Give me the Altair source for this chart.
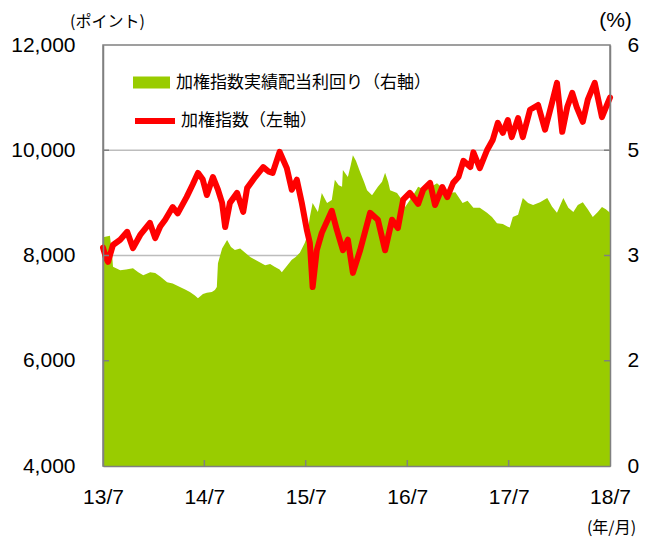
import altair as alt
import pandas as pd

# ---- data ----
idx_dates = [
    "2013-07-01", "2013-07-12", "2013-07-19", "2013-08-06", "2013-09-01", "2013-09-26",
    "2013-10-17", "2013-11-12", "2013-12-17", "2014-01-05", "2014-01-23", "2014-02-10",
    "2014-03-09", "2014-03-27", "2014-04-28", "2014-05-20", "2014-06-08", "2014-06-25",
    "2014-07-10", "2014-08-01", "2014-08-19", "2014-09-03", "2014-09-14", "2014-10-01",
    "2014-10-27", "2014-11-18", "2014-12-02", "2014-12-31", "2015-01-29", "2015-02-16",
    "2015-03-04", "2015-03-29", "2015-04-24", "2015-05-12", "2015-05-30", "2015-06-17",
    "2015-07-05", "2015-07-16", "2015-07-26", "2015-08-10", "2015-08-28", "2015-10-03",
    "2015-10-21", "2015-11-12", "2015-11-30", "2015-12-18", "2016-01-13", "2016-02-18",
    "2016-03-17", "2016-04-12", "2016-05-07", "2016-05-28", "2016-06-16", "2016-07-10",
    "2016-08-09", "2016-08-27", "2016-09-21", "2016-10-09", "2016-11-04", "2016-11-22",
    "2016-12-13", "2017-01-01", "2017-01-19", "2017-02-13", "2017-02-24", "2017-03-19",
    "2017-04-14", "2017-05-05", "2017-05-23", "2017-06-10", "2017-06-28", "2017-07-12",
    "2017-08-04", "2017-08-21", "2017-09-16", "2017-10-15", "2017-11-09", "2017-12-04",
    "2017-12-22", "2018-01-10", "2018-01-28", "2018-02-15", "2018-03-03", "2018-03-25",
    "2018-04-12", "2018-05-07", "2018-06-02", "2018-06-23", "2018-07-01",
]
idx_values = [
    8150, 7950, 7880, 8200, 8300, 8450,
    8140, 8390, 8620, 8330, 8550, 8680,
    8920, 8800, 9110, 9350, 9570, 9450,
    9150, 9490, 9250, 9000, 8540, 9000,
    9190, 8830, 9280, 9490, 9680, 9600,
    9570, 9970, 9660, 9250, 9440, 9000,
    8490, 8240, 7400, 8100, 8430, 8850,
    8490, 8100, 8300, 7670, 8100, 8810,
    8680, 8100, 8680, 8520, 9060, 9190,
    8980, 9250, 9380, 8960, 9300, 9110,
    9380, 9490, 9800, 9680, 9960, 9660,
    10000, 10200, 10520, 10330, 10575, 10250,
    10610, 10250, 10770, 10860, 10390, 10900,
    11280, 10350, 10820, 11090, 10820, 10540,
    10960, 11280, 10630, 10900, 11000,
]

yld_dates = [
    "2013-07-01", "2013-07-26", "2013-08-03", "2013-08-06", "2013-09-01", "2013-09-22",
    "2013-10-17", "2013-11-05", "2013-11-23", "2013-12-18", "2014-01-05", "2014-01-23",
    "2014-02-17", "2014-03-09", "2014-04-04", "2014-04-21", "2014-05-10", "2014-05-28",
    "2014-06-08", "2014-06-26", "2014-07-10", "2014-07-28", "2014-08-08", "2014-08-15",
    "2014-08-19", "2014-09-03", "2014-09-21", "2014-10-05", "2014-10-19", "2014-11-07",
    "2014-11-25", "2014-12-13", "2014-12-31", "2015-01-18", "2015-02-05", "2015-02-23",
    "2015-03-11", "2015-03-29", "2015-04-06", "2015-04-24", "2015-05-12", "2015-05-26",
    "2015-06-10", "2015-06-28", "2015-07-05", "2015-07-16", "2015-07-26", "2015-08-14",
    "2015-08-28", "2015-09-16", "2015-10-03", "2015-10-14", "2015-10-28", "2015-11-09",
    "2015-11-12", "2015-11-30", "2015-12-11", "2015-12-18", "2015-12-29", "2016-01-13",
    "2016-01-27", "2016-02-07", "2016-02-25", "2016-03-17", "2016-04-01", "2016-04-12",
    "2016-04-23", "2016-04-30", "2016-05-25", "2016-06-12", "2016-06-23", "2016-07-03",
    "2016-07-21", "2016-08-09", "2016-09-04", "2016-09-25", "2016-10-16", "2016-11-08",
    "2016-11-26", "2016-12-21", "2017-01-16", "2017-02-03", "2017-02-24", "2017-03-19",
    "2017-04-14", "2017-05-02", "2017-05-20", "2017-06-10", "2017-06-28", "2017-07-05",
    "2017-07-16", "2017-08-04", "2017-08-21", "2017-09-09", "2017-09-27", "2017-10-22",
    "2017-11-17", "2017-12-04", "2017-12-22", "2018-01-14", "2018-02-01", "2018-02-19",
    "2018-03-07", "2018-03-25", "2018-04-12", "2018-04-30", "2018-05-18", "2018-06-02",
    "2018-06-16", "2018-07-01",
]
yld_values = [
    3.26, 3.28, 3.00, 2.84, 2.79, 2.80,
    2.82, 2.76, 2.72, 2.76, 2.75, 2.70,
    2.62, 2.60, 2.55, 2.52, 2.48, 2.43,
    2.39, 2.45, 2.47, 2.48, 2.51, 2.55,
    2.89, 3.10, 3.22, 3.12, 3.08, 3.10,
    3.04, 2.98, 2.94, 2.90, 2.86, 2.88,
    2.84, 2.80, 2.76, 2.85, 2.94, 2.98,
    3.04, 3.18, 3.26, 3.55, 3.75, 3.62,
    3.89, 3.75, 3.79, 4.08, 4.00, 3.98,
    4.22, 4.12, 4.30, 4.43, 4.35, 4.19,
    4.05, 3.93, 3.86, 3.98, 4.05, 4.18,
    4.05, 3.93, 3.89, 3.79, 3.69, 3.75,
    3.85, 3.98, 3.93, 3.98, 4.03, 3.95,
    3.89, 3.90, 3.75, 3.78, 3.68, 3.68,
    3.61, 3.55, 3.46, 3.45, 3.41, 3.40,
    3.55, 3.58, 3.82, 3.75, 3.72, 3.76,
    3.82, 3.70, 3.61, 3.82, 3.68, 3.62,
    3.72, 3.76, 3.66, 3.55, 3.62, 3.69,
    3.66, 3.61,
]

x_tick_dates = ["2014-07-01", "2015-07-01", "2016-07-01", "2017-07-01"]
grid_levels = [6000, 8000, 10000]
left_ticks = [4000, 6000, 8000, 10000, 12000]
right_ticks = [0, 1.5, 3, 4.5, 6]

LEG_YIELD = "加権指数実績配当利回り（右軸）"
LEG_INDEX = "加権指数（左軸）"
TITLE_LEFT = "(ポイント)"
TITLE_RIGHT = "(%)"
TITLE_X = "(年/月)"

GREEN = "#99cc00"
RED = "#ff0000"
FRAME = "#808080"
W, H = 507, 421
NUM_FONT = "Liberation Sans"
JP_FONT = "Noto Sans CJK JP"

def t(d):
    return d + "T00:00:00"

idx_df = pd.DataFrame({"date": [t(d) for d in idx_dates], "index": idx_values, "s": LEG_INDEX})
yld_df = pd.DataFrame({"date": [t(d) for d in yld_dates], "yield": yld_values, "s": LEG_YIELD})
grid_df = pd.DataFrame({"lvl": grid_levels})
xt_df = pd.DataFrame({"date": [t(d) for d in x_tick_dates]})

xscale = alt.Scale(
    domain=[alt.DateTime(year=2013, month=7, date=1), alt.DateTime(year=2018, month=7, date=1)],
    nice=False,
)
xaxis = alt.Axis(
    values=[alt.DateTime(year=y, month=7, date=1) for y in range(2013, 2019)],
    format="%y/%-m", title=TITLE_X, titleAngle=0, titleX=508, titleY=61,
    titleAlign="center", titleBaseline="middle", titleFont=JP_FONT, titleFontSize=16,
    titleFontWeight="normal", titleColor="black",
    labelFont=NUM_FONT, labelFontSize=21, labelColor="black", labelPadding=20,
    ticks=False, tickSize=0, grid=False, domain=True, domainColor=FRAME, domainWidth=1.5,
    zindex=1, labelFlush=False, labelOverlap=False,
)
X = alt.X("date:T", scale=xscale, axis=xaxis)

left_scale = alt.Scale(domain=[4000, 12000], nice=False, zero=False)
right_scale = alt.Scale(domain=[0, 6], nice=False, zero=False)

grid = alt.Chart(grid_df).mark_rule(color="#bdbdbd", strokeWidth=1.5).encode(
    y=alt.Y("lvl:Q", scale=left_scale, axis=None),
    x=alt.value(0), x2=alt.value(W),
)

area = alt.Chart(yld_df).mark_area(opacity=1).encode(
    x=X,
    y=alt.Y("yield:Q", scale=right_scale, stack=None, axis=alt.Axis(
        orient="right", values=right_ticks, format=".0f",
        title=TITLE_RIGHT, titleAngle=0, titleX=5, titleY=-25,
        titleAlign="center", titleBaseline="middle", titleFont=NUM_FONT, titleFontSize=21,
        titleFontWeight="normal", titleColor="black",
        labelFont=NUM_FONT, labelFontSize=21, labelColor="black", labelPadding=17,
        labelAlign="left", ticks=False, tickSize=0, grid=False, domain=True,
        domainColor=FRAME, domainWidth=1.5, zindex=1, labelFlush=False, labelOverlap=False,
    )),
    fill=alt.Fill("s:N", scale=alt.Scale(domain=[LEG_YIELD], range=[GREEN]), legend=alt.Legend(
        orient="none", legendX=30, legendY=19, title=None, padding=0,
        symbolType="M-1,-0.324L1,-0.324L1,0.324L-1,0.324Z", symbolSize=1369,
        symbolStrokeWidth=0, labelFont=JP_FONT, labelFontSize=17, labelColor="black",
        labelOffset=6, labelLimit=600,
    )),
)

line = alt.Chart(idx_df).mark_line(strokeWidth=6, strokeCap="round", strokeJoin="round").encode(
    x=X,
    y=alt.Y("index:Q", scale=left_scale, axis=alt.Axis(
        orient="left", values=left_ticks, format=",.0f",
        title=TITLE_LEFT, titleAngle=0, titleX=4, titleY=-24,
        titleAlign="center", titleBaseline="middle", titleFont=JP_FONT, titleFontSize=16,
        titleFontWeight="normal", titleColor="black",
        labelFont=NUM_FONT, labelFontSize=21, labelColor="black", labelPadding=28,
        ticks=False, tickSize=0, grid=False, domain=True,
        domainColor=FRAME, domainWidth=1.5, zindex=1, labelFlush=False, labelOverlap=False,
    )),
    stroke=alt.Stroke("s:N", scale=alt.Scale(domain=[LEG_INDEX], range=[RED]), legend=alt.Legend(
        orient="none", legendX=29, legendY=53, title=None, padding=0,
        symbolType="M-1,0L1,0", symbolSize=1600, symbolStrokeWidth=6,
        labelFont=JP_FONT, labelFontSize=17, labelColor="black",
        labelOffset=3, labelLimit=600,
    )),
)

lticks = alt.Chart(grid_df).mark_rule(color=FRAME, strokeWidth=1.5).encode(
    y=alt.Y("lvl:Q", scale=left_scale, axis=None), x=alt.value(0), x2=alt.value(6),
)
rticks = alt.Chart(grid_df).mark_rule(color=FRAME, strokeWidth=1.5).encode(
    y=alt.Y("lvl:Q", scale=left_scale, axis=None), x=alt.value(W - 6), x2=alt.value(W),
)
xticks = alt.Chart(xt_df).mark_rule(color=FRAME, strokeWidth=1.5).encode(
    x=X, y=alt.value(H), y2=alt.value(H - 6),
)

chart = alt.layer(grid, area, line, lticks, rticks, xticks).resolve_scale(
    y="independent"
).properties(
    width=W, height=H,
    autosize=alt.AutoSizeParams(type="none"),
    padding={"left": 95, "top": 37, "right": 30, "bottom": 75},
    background="white",
).configure_view(stroke=FRAME, strokeWidth=1.5)

chart.save("out.html", embed_options={"renderer": "svg", "actions": False})
